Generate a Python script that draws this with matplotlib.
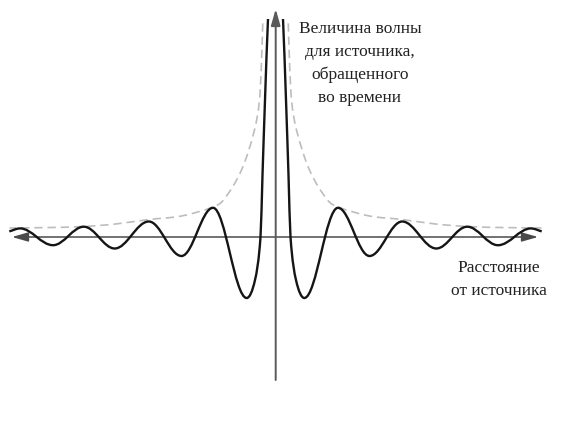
import numpy as np
import matplotlib
matplotlib.use("Agg")
import matplotlib.pyplot as plt
from matplotlib.path import Path
from matplotlib.patches import PathPatch

plt.rcParams['lines.scale_dashes'] = False

# wave: distance from source (right half, mirrored) vs amplitude
# centre lobe is sampled closely, the tail only at its crests and troughs
wave_dist = [0, 5, 7.5, 10.5, 13, 15, 20.5, 28.8, 62.5, 94, 126.7, 160.8,
             191.7, 222.5, 255.5, 266.2]
wave_amp = [300, 262, 218, 137, 62, 0, -43, -61, 29.2, -19, 15.5, -11.5,
            10.3, -8.2, 8.6, 5.6]

# dashed envelope (same scale)
env_dist = [12, 14, 16, 21, 34, 52, 62.5, 94, 126.5, 160, 191.5, 225, 266]
env_amp = [240, 175, 137, 107, 67, 37, 30, 21, 17.5, 13, 10.5, 9.5, 9]

y_label = "Величина волны\nдля источника,\nобращенного\nво времени"
x_label = "Расстояние\nот источника"


def smooth_path(xs, ys):
    # hermite curve through the points: flat at crests/troughs, otherwise
    # slope from the neighbours; each piece is one bezier segment
    xs = np.asarray(xs, float)
    ys = np.asarray(ys, float)
    n = len(xs)
    slope = np.zeros(n)
    ext = np.zeros(n, bool)
    for i in range(n):
        lo, hi = max(i - 1, 0), min(i + 1, n - 1)
        if 0 < i < n - 1 and (ys[i] - ys[lo]) * (ys[hi] - ys[i]) < 0:
            ext[i] = True
        else:
            slope[i] = (ys[hi] - ys[lo]) / (xs[hi] - xs[lo])
    verts = [(xs[0], ys[0])]
    codes = [Path.MOVETO]
    for i in range(n - 1):
        dx = xs[i + 1] - xs[i]
        a = 0.3634 if (ext[i] and ext[i + 1]) else 1 / 3
        verts += [(xs[i] + a * dx, ys[i] + a * dx * slope[i]),
                  (xs[i + 1] - a * dx, ys[i + 1] - a * dx * slope[i + 1]),
                  (xs[i + 1], ys[i + 1])]
        codes += [Path.CURVE4] * 3
    return Path(verts, codes)


fig = plt.figure(figsize=(5.63, 4.36), dpi=100)
ax = fig.add_axes([0, 0, 1, 417 / 436])
ax.set_xlim(-275.5, 287.5)
ax.set_ylim(-199, 218)
ax.axis("off")

wd = np.array(wave_dist)
wa = np.array(wave_amp)
xs = np.concatenate([-wd[::-1], wd[1:]])
ys = np.concatenate([wa[::-1], wa[1:]])

ed = np.array(env_dist)
ea = np.array(env_amp)
for side in (-1, 1):
    ax.add_patch(PathPatch(smooth_path(side * ed, ea), fill=False, edgecolor="#bdbdbd",
                           lw=1.2, linestyle=(0, (6, 3.5)), zorder=1))

# axes with arrows
ax.annotate("", xy=(262.5, 0), xytext=(-263.5, 0),
            arrowprops=dict(arrowstyle="<|-|>,head_length=0.7,head_width=0.2", color="#4a4a4a",
                            lw=1.1, mutation_scale=14, shrinkA=0, shrinkB=0, clip_on=False),
            annotation_clip=False, zorder=2)
ax.annotate("", xy=(0.2, 228), xytext=(0.2, -143),
            arrowprops=dict(arrowstyle="-|>,head_length=0.7,head_width=0.2", color="#5a5a5a",
                            lw=1.4, mutation_scale=14, shrinkA=0, shrinkB=0, clip_on=False),
            annotation_clip=False, zorder=2)

ax.add_patch(PathPatch(smooth_path(xs, ys), fill=False, edgecolor="#151515", lw=1.7, zorder=3))

ax.text(84.5, 216, y_label, ha="center", va="top", fontsize=12.5, family="Liberation Serif",
        linespacing=1.55, color="#222222")
ax.text(223, -23, x_label, ha="center", va="top", fontsize=12.5, family="Liberation Serif",
        linespacing=1.6, color="#222222")

fig.savefig("out.png", dpi=100)
